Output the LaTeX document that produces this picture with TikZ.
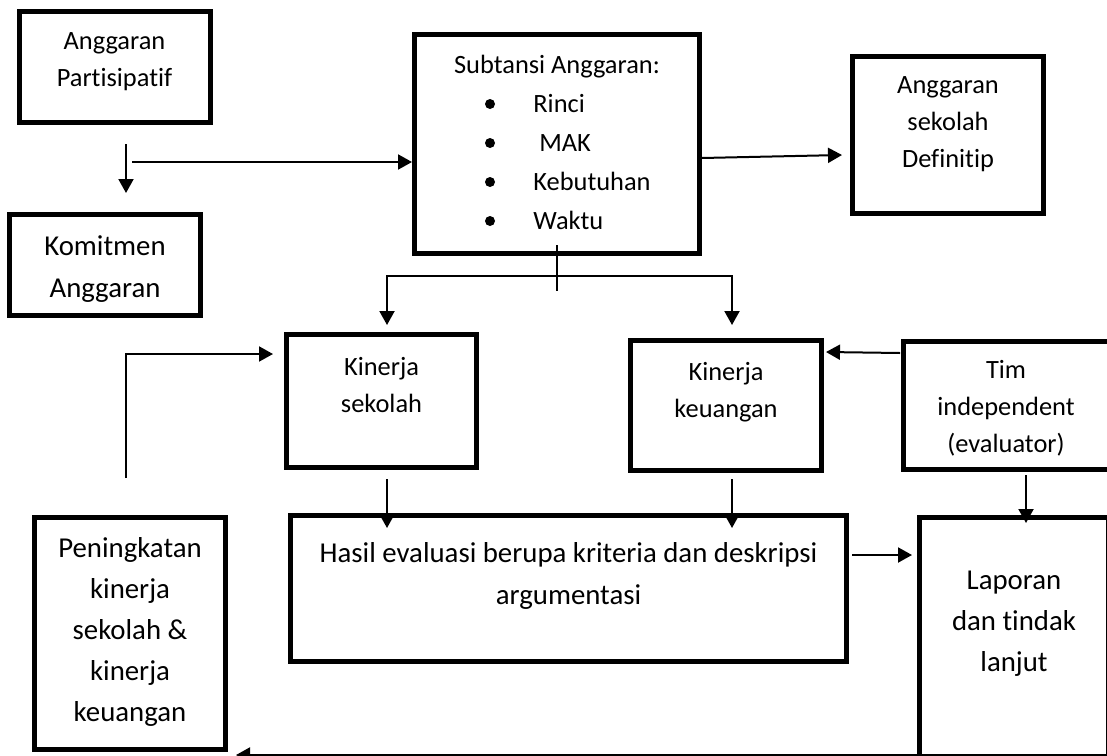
\documentclass[tikz,border=0pt]{standalone}
\usepackage{fontspec}
\setmainfont[Ligatures={NoCommon}]{Carlito}
\usetikzlibrary{calc, positioning, arrows.meta}

\begin{document}
\begin{tikzpicture}[x=0.5pt, y=-0.5pt,
    box/.style={draw, line width=2.5pt, inner sep=0pt},
    txt/.style={align=center, inner sep=0pt, font=\fontsize{13.2}{18.5}\selectfont},
    txtbig/.style={align=center, inner sep=0pt, font=\fontsize{14.4}{20.6}\selectfont},
    arr/.style={line width=1pt, -{Triangle[length=7pt, width=7.5pt]}}]
    \useasboundingbox (0,0) rectangle (1107,755);

    % boxes
    \node[box, minimum width=95.5pt, minimum height=55.5pt] (partisipatif) at (115,67) {};
    \node[box, minimum width=95.5pt, minimum height=50.5pt] (komitmen) at (105,265) {};
    \node[box, minimum width=142.5pt, minimum height=109.5pt] (subtansi) at (557,144) {};
    \node[box, minimum width=95.5pt, minimum height=78.5pt] (definitip) at (948,135) {};
    \node[box, minimum width=95pt, minimum height=66.5pt] (ksekolah) at (381.5,401) {};
    \node[box, minimum width=95.5pt, minimum height=65pt] (kkeuangan) at (726,405.5) {};
    \node[box, minimum width=103.5pt, minimum height=64pt] (tim) at (1007,405.5) {};
    \node[box, minimum width=278pt, minimum height=73pt] (hasil) at (568.5,588.5) {};
    \node[box, minimum width=94.5pt, minimum height=135pt] (laporan) at (1014,652.5) {};
    \node[box, minimum width=95.5pt, minimum height=116pt] (peningkatan) at (130,633.5) {};

    % texts
    \node[txt] (partisipatif-t) at (114.5,62) {Anggaran\\Partisipatif};
    \node[txtbig] (komitmen-t) at (105,269) {Komitmen\\Anggaran};
    \node[txt] (definitip-t) at (948,124.6) {Anggaran\\sekolah\\Definitip};
    \node[txt] (ksekolah-t) at (381.5,385.5) {Kinerja\\sekolah};
    \node[txt] (kkeuangan-t) at (726,392) {Kinerja\\keuangan};
    \node[txt] (tim-t) at (1006,408) {Tim\\independent\\(evaluator)};
    \node[txtbig] (hasil-t) at (568.5,576) {Hasil evaluasi berupa kriteria dan deskripsi\\argumentasi};
    \node[txtbig] (laporan-t) at (1014,624) {Laporan\\dan tindak\\lanjut};
    \node[txtbig] (peningkatan-t) at (130,632) {Peningkatan\\kinerja\\sekolah \&\\kinerja\\keuangan};

    \node[txt, anchor=base] (subtansi-t) at (557,73) {Subtansi Anggaran:};
    \foreach \entry [count=\i] in {Rinci,{\ MAK},Kebutuhan,Waktu} {
        \fill (490,{65+39*\i}) circle (2.5pt);
        \node[txt, anchor=base west] (entry\i) at (533,{73+39*\i}) {\entry};
    }

    % connectors
    \draw[arr] ($(partisipatif.south)+(11,19)$) -- ($(komitmen.north)+(21,-19)$);
    \coordinate (split) at ($(partisipatif.south)+(17,37)$);
    \draw[arr] (split) -- (split -| subtansi.west);
    \draw[arr] ($(subtansi.east)+(0,14)$) -- ($(definitip.west)+(-8,20)$);

    \draw[line width=1pt] ($(subtansi.south)+(0,-11)$) -- ++(0,46);
    \coordinate (fork) at ($(subtansi.south)+(0,20)$);
    \draw[arr] (fork) -| ($(ksekolah.north)+(5.5,-7)$);
    \draw[arr] (fork) -| ($(kkeuangan.north)+(6,-13)$);

    \draw[arr] ($(peningkatan.north)+(-4,-37)$) |- ($(ksekolah.west)+(-11,-47)$);
    \draw[arr] ($(ksekolah.south)+(5.5,9)$) -- ($(ksekolah.south |- hasil.north)+(5.5,15)$);
    \draw[arr] ($(kkeuangan.south)+(6,6)$) -- ($(kkeuangan.south |- hasil.north)+(6,15)$);
    \draw[arr] ($(tim.west)+(-1,-52.5)$) -- ($(kkeuangan.east)+(2,-53.5)$);
    \draw[arr] ($(tim.south)+(19,3)$) -- ($(tim.south |- laporan.north)+(19,8)$);
    \draw[arr] ($(hasil.east)+(3,-33.5)$) -- ($(hasil.east -| laporan.west)+(-5,-33.5)$);
    \draw[arr] ($(laporan.south east)+(0,-35)$) -- ($(peningkatan.south east)+(8,3)$);
\end{tikzpicture}
\end{document}
